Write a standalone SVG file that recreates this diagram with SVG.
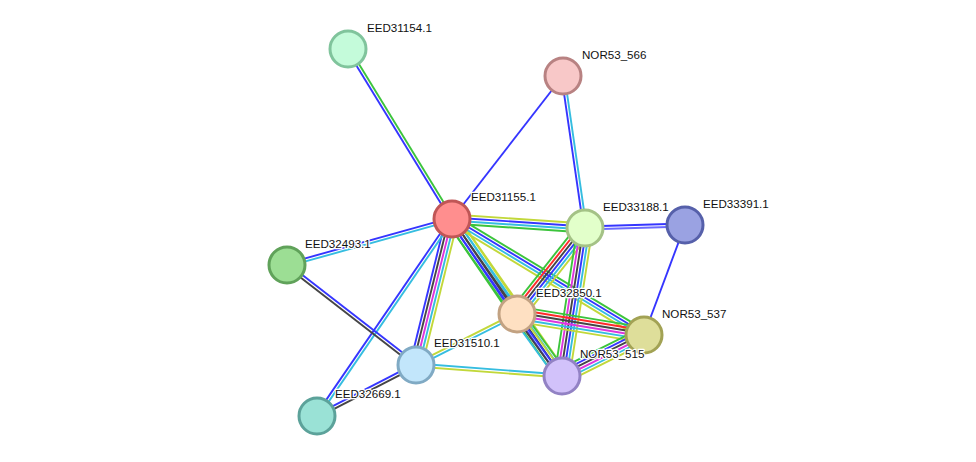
<svg xmlns="http://www.w3.org/2000/svg" width="976" height="462" viewBox="0 0 976 462">
<style>
line{stroke-width:1.9;fill:none}
.g{stroke:#3cc43c}.r{stroke:#ff2a2a}.b{stroke:#3535ff}.k{stroke:#454545}.m{stroke:#dd35dd}.c{stroke:#35bde0}.y{stroke:#c2d83a}.p{stroke:#6a6aff}
circle{stroke-width:3}
text{font-family:"Liberation Sans",Arial,sans-serif;font-size:11.6px;fill:#111;stroke:#fff;stroke-width:2.5px;paint-order:stroke;stroke-linejoin:round}
</style>
<rect width="976" height="462" fill="#fff"/>
<g id="edges">
<g transform="translate(348,49) rotate(58.5)"><line class="g" x1="0" y1="-1.5" x2="199.3" y2="-1.5"/><line class="b" x1="0" y1="1.5" x2="199.3" y2="1.5"/></g>
<g transform="translate(452,219) rotate(-52.2)"><line class="b" x1="0" y1="0" x2="181" y2="0"/></g>
<g transform="translate(563,76) rotate(81.76)"><line class="c" x1="0" y1="-1.5" x2="153.6" y2="-1.5"/><line class="b" x1="0" y1="1.5" x2="153.6" y2="1.5"/></g>
<g transform="translate(452,219) rotate(3.87)"><line class="y" x1="0" y1="-4.5" x2="133.3" y2="-4.5"/><line class="b" x1="0" y1="-1.5" x2="133.3" y2="-1.5"/><line class="c" x1="0" y1="1.5" x2="133.3" y2="1.5"/><line class="g" x1="0" y1="4.5" x2="133.3" y2="4.5"/></g>
<g transform="translate(585,228) rotate(-1.72)"><line class="b" x1="0" y1="-1.5" x2="100" y2="-1.5"/><line class="p" x1="0" y1="1.5" x2="100" y2="1.5"/></g>
<g transform="translate(644,335) rotate(-69.56)"><line class="b" x1="0" y1="0" x2="117.4" y2="0"/></g>
<g transform="translate(287,265) rotate(-15.58)"><line class="b" x1="0" y1="-1.5" x2="171.3" y2="-1.5"/><line class="c" x1="0" y1="1.5" x2="171.3" y2="1.5"/></g>
<g transform="translate(416,365) rotate(-76.15)"><line class="b" x1="0" y1="-6" x2="150.4" y2="-6"/><line class="k" x1="0" y1="-3" x2="150.4" y2="-3"/><line class="m" x1="0" y1="0" x2="150.4" y2="0"/><line class="c" x1="0" y1="3" x2="150.4" y2="3"/><line class="y" x1="0" y1="6" x2="150.4" y2="6"/></g>
<g transform="translate(317,416) rotate(-55.58)"><line class="b" x1="0" y1="-1.5" x2="238.8" y2="-1.5"/><line class="c" x1="0" y1="1.5" x2="238.8" y2="1.5"/></g>
<g transform="translate(287,265) rotate(37.78)"><line class="b" x1="0" y1="-1.5" x2="163.2" y2="-1.5"/><line class="k" x1="0" y1="1.5" x2="163.2" y2="1.5"/></g>
<g transform="translate(317,416) rotate(-27.25)"><line class="b" x1="0" y1="-1.5" x2="111.4" y2="-1.5"/><line class="k" x1="0" y1="1.5" x2="111.4" y2="1.5"/></g>
<g transform="translate(452,219) rotate(55.62)"><line class="y" x1="0" y1="-6" x2="115.1" y2="-6"/><line class="c" x1="0" y1="-3" x2="115.1" y2="-3"/><line class="k" x1="0" y1="0" x2="115.1" y2="0"/><line class="b" x1="0" y1="3" x2="115.1" y2="3"/><line class="g" x1="0" y1="6" x2="115.1" y2="6"/></g>
<g transform="translate(452,219) rotate(54.98)"><line class="y" x1="0" y1="-6" x2="191.7" y2="-6"/><line class="c" x1="0" y1="-3" x2="191.7" y2="-3"/><line class="k" x1="0" y1="0" x2="191.7" y2="0"/><line class="b" x1="0" y1="3" x2="191.7" y2="3"/><line class="g" x1="0" y1="6" x2="191.7" y2="6"/></g>
<g transform="translate(452,219) rotate(31.14)"><line class="g" x1="0" y1="-4.5" x2="224.3" y2="-4.5"/><line class="b" x1="0" y1="-1.5" x2="224.3" y2="-1.5"/><line class="c" x1="0" y1="1.5" x2="224.3" y2="1.5"/><line class="y" x1="0" y1="4.5" x2="224.3" y2="4.5"/></g>
<g transform="translate(517,314) rotate(-51.67)"><line class="g" x1="0" y1="-7.5" x2="109.6" y2="-7.5"/><line class="r" x1="0" y1="-4.5" x2="109.6" y2="-4.5"/><line class="k" x1="0" y1="-1.5" x2="109.6" y2="-1.5"/><line class="b" x1="0" y1="1.5" x2="109.6" y2="1.5"/><line class="c" x1="0" y1="4.5" x2="109.6" y2="4.5"/><line class="y" x1="0" y1="7.5" x2="109.6" y2="7.5"/></g>
<g transform="translate(562,376) rotate(-81.17)"><line class="g" x1="0" y1="-7.5" x2="149.8" y2="-7.5"/><line class="m" x1="0" y1="-4.5" x2="149.8" y2="-4.5"/><line class="k" x1="0" y1="-1.5" x2="149.8" y2="-1.5"/><line class="b" x1="0" y1="1.5" x2="149.8" y2="1.5"/><line class="c" x1="0" y1="4.5" x2="149.8" y2="4.5"/><line class="y" x1="0" y1="7.5" x2="149.8" y2="7.5"/></g>
<g transform="translate(517,314) rotate(9.39)"><line class="g" x1="0" y1="-7.5" x2="128.7" y2="-7.5"/><line class="r" x1="0" y1="-4.5" x2="128.7" y2="-4.5"/><line class="k" x1="0" y1="-1.5" x2="128.7" y2="-1.5"/><line class="m" x1="0" y1="1.5" x2="128.7" y2="1.5"/><line class="c" x1="0" y1="4.5" x2="128.7" y2="4.5"/><line class="y" x1="0" y1="7.5" x2="128.7" y2="7.5"/></g>
<g transform="translate(517,314) rotate(54.03)"><line class="g" x1="0" y1="-6" x2="76.6" y2="-6"/><line class="y" x1="0" y1="-3" x2="76.6" y2="-3"/><line class="b" x1="0" y1="0" x2="76.6" y2="0"/><line class="k" x1="0" y1="3" x2="76.6" y2="3"/><line class="c" x1="0" y1="6" x2="76.6" y2="6"/></g>
<g transform="translate(562,376) rotate(-26.57)"><line class="g" x1="0" y1="-7.5" x2="91.7" y2="-7.5"/><line class="b" x1="0" y1="-4.5" x2="91.7" y2="-4.5"/><line class="k" x1="0" y1="-1.5" x2="91.7" y2="-1.5"/><line class="m" x1="0" y1="1.5" x2="91.7" y2="1.5"/><line class="c" x1="0" y1="4.5" x2="91.7" y2="4.5"/><line class="y" x1="0" y1="7.5" x2="91.7" y2="7.5"/></g>
<g transform="translate(416,365) rotate(-26.79)"><line class="y" x1="0" y1="-1.5" x2="113.1" y2="-1.5"/><line class="c" x1="0" y1="1.5" x2="113.1" y2="1.5"/></g>
<g transform="translate(416,365) rotate(4.31)"><line class="c" x1="0" y1="-1.5" x2="146.4" y2="-1.5"/><line class="y" x1="0" y1="1.5" x2="146.4" y2="1.5"/></g>
</g>
<g id="EED31154.1"><circle cx="348" cy="49" r="18" fill="#c4fbda" stroke="#80c49c"/><text x="367" y="32">EED31154.1</text></g>
<g id="NOR53_566"><circle cx="563" cy="76" r="18" fill="#f8c8c8" stroke="#b88282"/><text x="582" y="59">NOR53_566</text></g>
<g id="EED31155.1"><circle cx="452" cy="219" r="18" fill="#ff8e8e" stroke="#c05656"/><text x="471" y="201">EED31155.1</text></g>
<g id="EED33188.1"><circle cx="585" cy="228" r="18" fill="#e2ffca" stroke="#a4c286"/><text x="603" y="211">EED33188.1</text></g>
<g id="EED33391.1"><circle cx="685" cy="225" r="18" fill="#9aa2e2" stroke="#5660aa"/><text x="703" y="208">EED33391.1</text></g>
<g id="EED32493.1"><circle cx="287" cy="265" r="18" fill="#9cde94" stroke="#60a25a"/><text x="305" y="248">EED32493.1</text></g>
<g id="EED32850.1"><circle cx="517" cy="314" r="18" fill="#fee0c2" stroke="#c2a282"/><text x="536" y="297">EED32850.1</text></g>
<g id="NOR53_537"><circle cx="644" cy="335" r="18" fill="#dede9a" stroke="#a2a254"/><text x="662" y="318">NOR53_537</text></g>
<g id="EED31510.1"><circle cx="416" cy="365" r="18" fill="#c2e6fb" stroke="#80aac4"/><text x="434" y="347">EED31510.1</text></g>
<g id="NOR53_515"><circle cx="562" cy="376" r="18" fill="#d2c2fa" stroke="#9282c4"/><text x="580" y="358">NOR53_515</text></g>
<g id="EED32669.1"><circle cx="317" cy="416" r="18" fill="#9ae2d6" stroke="#5ca29a"/><text x="335" y="398">EED32669.1</text></g>
</svg>
